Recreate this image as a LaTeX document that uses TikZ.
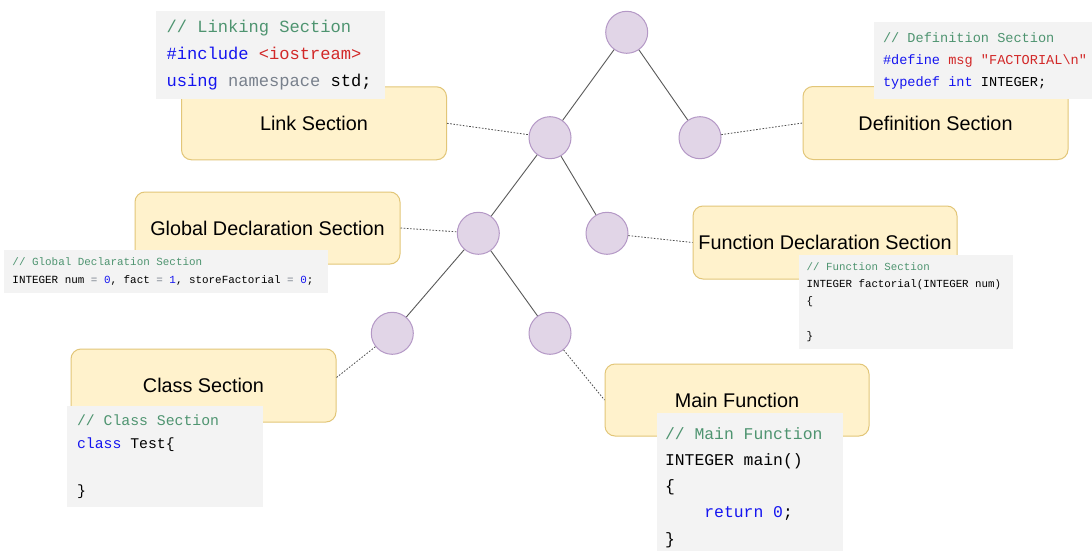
\documentclass[tikz,border=0pt]{standalone}
\usepackage{fontspec}
\setmainfont{Liberation Sans}
\newfontfamily\codefont{Liberation Mono}
\newcommand\codesize[2]{\codefont\fontsize{#1}{#2}\selectfont}
% one monospaced character cell of blank space
\newcommand\csp{\makebox[0.6em]{}}

\definecolor{secfill}{HTML}{FFF2CC}
\definecolor{secdraw}{RGB}{226,198,120}
\definecolor{nodefill}{HTML}{E1D5E7}
\definecolor{nodedraw}{RGB}{180,152,198}
\definecolor{codebg}{RGB}{243,243,243}
\definecolor{cmt}{RGB}{78,148,112}
\definecolor{kw}{RGB}{20,20,240}
\definecolor{str}{RGB}{210,40,40}
\definecolor{ns}{RGB}{120,128,140}

\tikzset{
  section/.style={draw=secdraw, fill=secfill, rounded corners=10pt, line width=1pt,
    minimum width=265pt, minimum height=73pt, inner sep=0pt,
    font=\fontsize{19.8}{24}\selectfont, text=black},
  treenode/.style={circle, draw=nodedraw, fill=nodefill, line width=1pt,
    minimum size=42pt, inner sep=0pt},
  codebox/.style={fill=codebg, inner ysep=0pt, align=left, text=black},
  branch/.style={draw=black!65, line width=0.9pt},
  leader/.style={draw=black!70, line width=0.8pt, dash pattern=on 1.6pt off 1.6pt},
}

\begin{document}
\begin{tikzpicture}[x=1pt, y=-1pt]
\clip (0,0) rectangle (1092,551);
\fill[white] (0,0) rectangle (1092,551);

% program sections
\node[section] (link)  at (314,123.3)   {Link Section};
\node[section] (def)   at (935.5,123)   {Definition Section};
\node[section, minimum height=72pt] (glob) at (267.5,228) {Global Declaration Section};
\node[section, minimum width=264pt] (func) at (825,242.5) {Function Declaration Section};
\node[section] (cls)   at (203.5,385.5) {Class Section};
\node[section, minimum width=264pt, minimum height=72pt] (mainf) at (737,400) {Main Function};

% tree
\node[treenode] (root) at (626.7,32.3) {};
\node[treenode] (a)    at (550,137.7) {};
\node[treenode] (b)    at (700,137.7) {};
\node[treenode] (c)    at (478.3,233.3) {};
\node[treenode] (d)    at (607,233.3) {};
\node[treenode] (e)    at (392.3,333.3) {};
\node[treenode] (f)    at (550,333.3) {};

\draw[branch] (root) -- (a);
\draw[branch] (root) -- (b);
\draw[branch] (a) -- (c);
\draw[branch] (a) -- (d);
\draw[branch] (c) -- (e);
\draw[branch] (c) -- (f);

% leaders from tree nodes to sections
\draw[leader] (link.east) -- (a);
\draw[leader] (b) -- (def.west);
\draw[leader] (glob.east) -- (c);
\draw[leader] (d) -- (func.west);
\draw[leader] ([yshift=8pt]cls.east) -- (e);
\draw[leader] (f) -- (mainf.west);

% code snippets
\node[codebox, minimum width=229pt, minimum height=88pt, text width=208pt, inner xsep=10.5pt,
  font=\codesize{17.1}{27}] (lnkcode) at (270.5,55) {%
  {\color{cmt}//\csp Linking\csp Section}\\
  {\color{kw}\#include}\csp{\color{str}<iostream>}\\
  {\color{kw}using}\csp{\color{ns}namespace}\csp std;};

\node[codebox, minimum width=226pt, minimum height=77pt, text width=208pt, inner xsep=8.7pt,
  font=\codesize{13.6}{22}] (defcode) at (987,60.5) {%
  {\color{cmt}//\csp Definition\csp Section}\\
  {\color{kw}\#define}\csp{\color{str}msg\csp"FACTORIAL\textbackslash n"}\\
  {\color{kw}typedef\csp int}\csp INTEGER;};

\node[codebox, minimum width=324pt, minimum height=43pt, text width=307pt, inner xsep=8.5pt,
  font=\codesize{10.9}{17.3}] (globcode) at (166,271.5) {%
  {\color{cmt}//\csp Global\csp Declaration\csp Section}\\
  INTEGER\csp num\csp{\color{ns}=}\csp{\color{kw}0},\csp fact\csp{\color{ns}=}\csp{\color{kw}1},\csp storeFactorial\csp{\color{ns}=}\csp{\color{kw}0};};

\node[codebox, minimum width=214pt, minimum height=94pt, text width=198.6pt, inner xsep=7.7pt,
  font=\codesize{10.8}{17.3}] (funccode) at (906,302) {%
  {\color{cmt}//\csp Function\csp Section}\\
  INTEGER\csp factorial(INTEGER\csp num)\\
  \{\\
  \mbox{}\\
  \}};

\node[codebox, minimum width=196pt, minimum height=101pt, text width=176pt, inner xsep=9.7pt,
  font=\codesize{14.8}{23.5}] (clscode) at (165,456.5) {%
  {\color{cmt}//\csp Class\csp Section}\\
  {\color{kw}class}\csp Test\{\\
  \mbox{}\\
  \}};

\node[codebox, minimum width=186pt, minimum height=149pt, text width=170pt, inner xsep=8pt,
  font=\codesize{16.4}{26.25}] (maincode) at (750,487.5) {%
  {\color{cmt}//\csp Main\csp Function}\\
  INTEGER\csp main()\\
  \{\\
  \csp\csp\csp\csp{\color{kw}return\csp 0};\\
  \}};
\end{tikzpicture}
\end{document}
